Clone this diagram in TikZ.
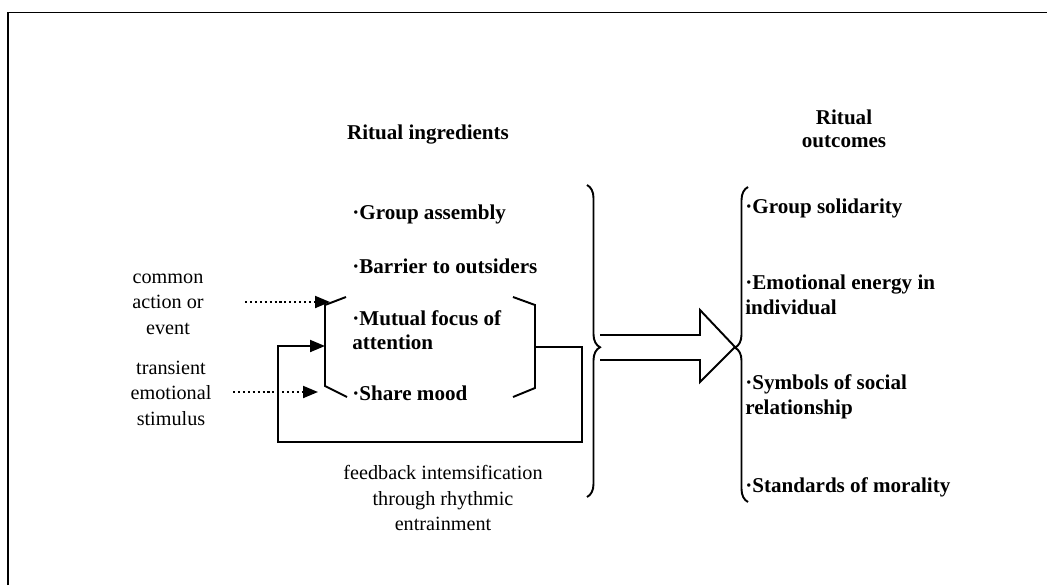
\documentclass[tikz,border=0pt]{standalone}
\usepackage{fontspec}
\setmainfont{Liberation Serif}
\usetikzlibrary{arrows.meta,decorations.pathreplacing}

\tikzset{
  head/.style={align=center,inner sep=0pt,font=\bfseries\fontsize{12}{13}\selectfont},
  item/.style={anchor=west,align=left,inner sep=0pt,font=\bfseries\fontsize{12}{14}\selectfont},
  note/.style={align=center,inner sep=0pt,font=\fontsize{11.5}{14.5}\selectfont},
  bracket/.style={line width=1.1pt},
  feed/.style={line width=1.1pt,-{Triangle[length=0.3cm,width=0.24cm]}},
  cue/.style={line width=1.1pt,dash pattern=on 1.2pt off 1.6pt,-{Triangle[length=0.3cm,width=0.24cm]}},
  bigbrace/.style={line width=1.1pt,decorate,decoration={brace,mirror,amplitude=0.26cm,#1}}
}

\begin{document}
\begin{tikzpicture}[x=0.02cm,y=-0.02cm]
    % frame (top and left edges only)
    \useasboundingbox (0,0) rectangle (1047,585);
    \draw[line width=0.9pt] (8,585) -- (8,12.5) -- (1047,12.5);

    % headings
    \node[head] (ingr) at (428,135) {Ritual ingredients};
    \node[head] (outc) at (844,129) {Ritual\\outcomes};

    % ritual ingredients
    \node[item] (assembly) at (352,214) {·Group assembly};
    \node[item] (barrier) at (352,266) {·Barrier to outsiders};
    \node[item] (focus) at (352,330) {·Mutual focus of\\attention};
    \node[item] (mood) at (352,393) {·Share mood};

    % ritual outcomes
    \node[item] (solid) at (745,208) {·Group solidarity};
    \node[item] (energy) at (745,295) {·Emotional energy in\\individual};
    \node[item] (symbols) at (745,397) {·Symbols of social\\relationship};
    \node[item] (moral) at (745,487) {·Standards of morality};

    % side notes
    \node[note] (common) at (168,304) {common\\action or\\event};
    \node[note] (transient) at (171,393) {transient\\emotional\\stimulus};
    \node[note] (feedback) at (443,498) {feedback intemsification\\through rhythmic\\entrainment};

    % small brackets round focus and mood
    \draw[bracket] (346,297) -- (325,305) -- (325,386) -- (347,397);
    \draw[bracket] (513,297) -- (535,305) -- (535,388) -- (513,397);
    \coordinate (lb) at (325,346);
    \coordinate (rb) at (535,347);
    \coordinate (lt) at (330,302);
    \coordinate (lm) at (318,392);
    \coordinate (c1) at (245,302);
    \coordinate (c2) at (233,392);

    % feedback loop and cues
    \draw[feed] (rb) -- (582,347) -- (582,442) -- (278,442) -- (278,346) -- (lb);
    \draw[cue] (c1) -- (lt);
    \draw[cue] (c2) -- (lm);

    % braces and block arrow
    \draw[bigbrace={aspect=0.48}] (587,497) -- (587,185);
    \draw[bigbrace={aspect=0.51}] (748,187) -- (748,502);
    \draw[bracket] (600,335) -- (700,335) -- (700,310) -- (735,347)
        -- (700,382) -- (700,360) -- (600,360);
\end{tikzpicture}
\end{document}
